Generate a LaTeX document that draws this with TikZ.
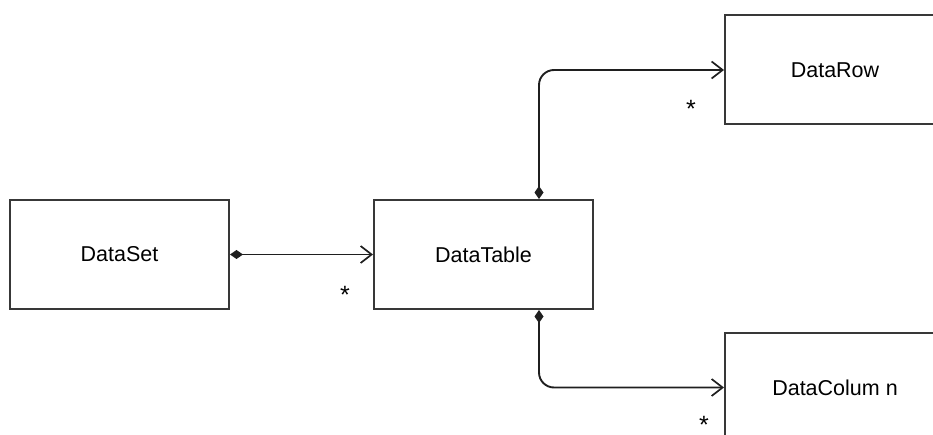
\documentclass[tikz,border=0pt]{standalone}
\usepackage{fontspec}
\setmainfont{Liberation Sans}
\usetikzlibrary{arrows.meta}
\begin{document}
\begin{tikzpicture}[x=1pt,y=-1pt,
  cls/.style={draw=black!78, line width=2pt, fill=white, minimum width=219pt, minimum height=109pt, inner sep=0pt, font=\fontsize{21.5}{25}\selectfont},
  comp/.style={line width=1.9pt, draw=black!88, {Diamond[length=13pt,width=9pt]}-{Straight Barb[length=11pt,width=17pt,line width=1.7pt]}},
  mult/.style={font=\fontsize{25}{27}\selectfont, inner sep=0pt}]
\useasboundingbox (0,0) rectangle (933,435);
\clip (0,0) rectangle (933,435);
\node[cls] (ds) at (119.5,254.5) {DataSet};
\node[cls] (dt) at (483.5,254.5) {DataTable};
\node[cls, minimum width=220pt] (dr) at (835,70) {DataRow};
\node[cls, minimum width=220pt] (dc) at (835,387.5) {DataColum n};
\draw[comp] (ds.east) -- (dt.west);
\draw[comp, rounded corners=15pt] ([xshift=55.5pt]dt.north) |- (dr.west);
\draw[comp, rounded corners=15pt] ([xshift=55.5pt]dt.south) |- (dc.west);
\node[mult] (m1) at (345,295) {*};
\node[mult] (m2) at (691,109) {*};
\node[mult] (m3) at (704,425) {*};
\end{tikzpicture}
\end{document}
